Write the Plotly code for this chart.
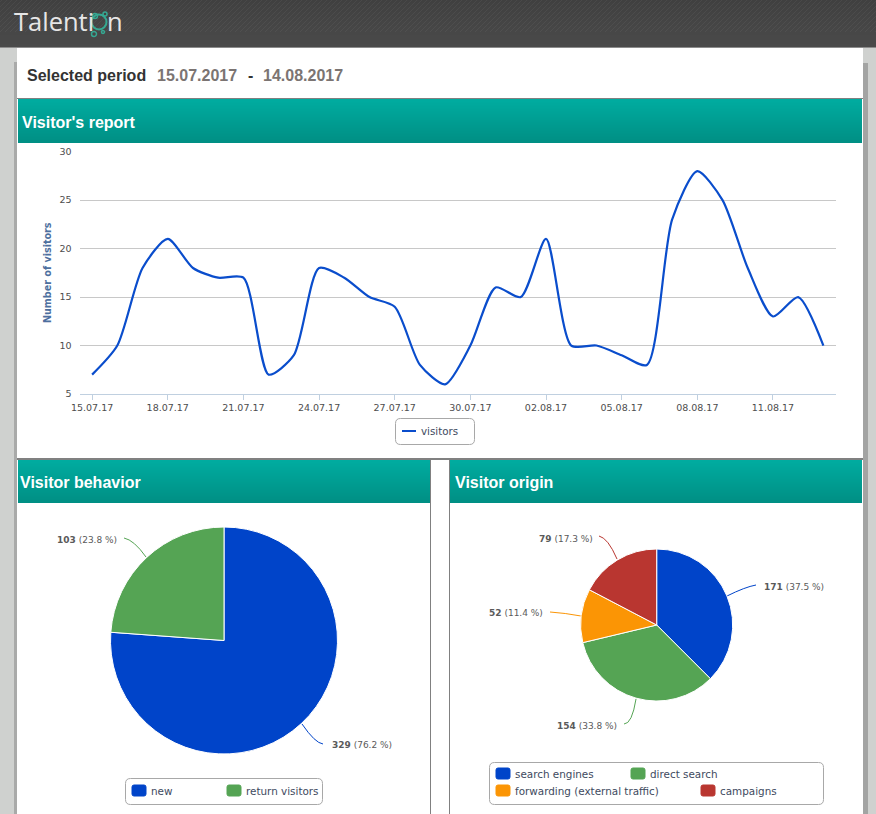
import plotly.graph_objects as go

W, H = 876, 814

# visitor's report
dates = ["15.07.17", "16.07.17", "17.07.17", "18.07.17", "19.07.17", "20.07.17", "21.07.17", "22.07.17",
         "23.07.17", "24.07.17", "25.07.17", "26.07.17", "27.07.17", "28.07.17", "29.07.17", "30.07.17",
         "31.07.17", "01.08.17", "02.08.17", "03.08.17", "04.08.17", "05.08.17", "06.08.17", "07.08.17",
         "08.08.17", "09.08.17", "10.08.17", "11.08.17", "12.08.17", "13.08.17"]
visitors = [7, 10, 18, 21, 18, 17, 17, 7, 9, 18, 17, 15, 14, 8, 6, 10, 16, 15, 21, 10, 10, 9, 8, 23, 28, 25, 18, 13, 15, 10]
tick_dates = dates[::3]

# pies
behavior_labels = ["new", "return visitors"]
behavior_values = [329, 103]
behavior_pct = ["76.2", "23.8"]
origin_labels = ["search engines", "direct search", "forwarding (external traffic)", "campaigns"]
origin_values = [171, 154, 52, 79]
origin_pct = ["37.5", "33.8", "11.4", "17.3"]

BLUE, GREEN, ORANGE, RED = "#0044c9", "#55a454", "#fb9505", "#b93630"
SANS = "Liberation Sans"
DEJAVU = "DejaVu Sans"


def fx(x):
    return x / W


def fy(y):
    return 1 - y / H


shapes = []
annotations = []


def rect(x0, y0, x1, y1, color):
    shapes.append(dict(type="rect", xref="paper", yref="paper", layer="below",
                       x0=fx(x0), x1=fx(x1), y0=fy(y0), y1=fy(y1),
                       fillcolor=color, line_width=0))


def gradient(x0, y0, x1, y1, top, bottom):
    n = y1 - y0
    for i in range(n):
        c = [round(top[k] + (bottom[k] - top[k]) * i / max(n - 1, 1)) for k in range(3)]
        rect(x0, y0 + i, x1, y0 + i + 1, f"rgb({c[0]},{c[1]},{c[2]})")


def text(x, y, s, size, color, family=DEJAVU, anchor="left", **kw):
    annotations.append(dict(xref="paper", yref="paper", x=fx(x - 1), y=fy(y), text=s, showarrow=False,
                            xanchor=anchor, yanchor="middle", borderpad=0,
                            font=dict(family=family, size=size, color=color), **kw))


def rounded_box(x0, y0, x1, y1, r, fill, line, lw=1):
    p = (f"M {fx(x0 + r)} {fy(y0)} L {fx(x1 - r)} {fy(y0)} Q {fx(x1)} {fy(y0)} {fx(x1)} {fy(y0 + r)} "
         f"L {fx(x1)} {fy(y1 - r)} Q {fx(x1)} {fy(y1)} {fx(x1 - r)} {fy(y1)} "
         f"L {fx(x0 + r)} {fy(y1)} Q {fx(x0)} {fy(y1)} {fx(x0)} {fy(y1 - r)} "
         f"L {fx(x0)} {fy(y0 + r)} Q {fx(x0)} {fy(y0)} {fx(x0 + r)} {fy(y0)} Z")
    shapes.append(dict(type="path", xref="paper", yref="paper", layer="below", path=p,
                       fillcolor=fill, line=dict(color=line, width=lw)))


def leader(x0, y0, cx, cy, x1, y1, color):
    p = f"M {fx(x0)} {fy(y0)} Q {fx(cx)} {fy(cy)} {fx(x1)} {fy(y1)}"
    shapes.append(dict(type="path", xref="paper", yref="paper", layer="below", path=p,
                       line=dict(color=color, width=1)))


# page background and shadows
rect(0, 0, W, H, "#cfd1cf")
rect(14, 62, 17, H, "#a9aaa9")
rect(863, 63, 868, H, "#a3a4a3")
rect(17, 48, 863, H, "#ffffff")

# top bar
gradient(0, 0, W, 47, (64, 64, 64), (74, 74, 74))
rect(0, 47, W, 48, "#8c8c8c")
stripes = " ".join(f"M {fx(x)} {fy(32)} L {fx(x + 32)} {fy(0)}" for x in range(-30, W, 5))
shapes.append(dict(type="path", xref="paper", yref="paper", layer="below", path=stripes,
                   line=dict(color="rgba(255,255,255,0.05)", width=1)))

# logo
text(14, 21, "Talenti", 25.5, "#e6e6e6", family="Open Sans")
text(107, 21, "n", 25.5, "#e6e6e6", family="Open Sans")
for cx, cy, r, w in [(99, 22, 7.5, 2), (94, 34, 2.5, 1.5), (103, 32, 1.5, 1.5), (105, 14, 2, 1.5), (95, 16, 2.5, 1.5)]:
    shapes.append(dict(type="circle", xref="paper", yref="paper", layer="below",
                       x0=fx(cx - r), x1=fx(cx + r), y0=fy(cy + r), y1=fy(cy - r),
                       line=dict(color="#35a892", width=w)))

# selected period
text(27, 75.4, "<b>Selected period</b>", 16, "#333333", family=SANS)
text(157, 75.4, "<b>15.07.2017</b>", 16, "#7b7472", family=SANS)
text(248, 75.4, "<b>-</b>", 16, "#333333", family=SANS)
text(263, 75.4, "<b>14.08.2017</b>", 16, "#7b7472", family=SANS)

# section bands
TEAL_TOP, TEAL_BOTTOM = (0, 172, 160), (0, 143, 132)
rect(17, 98, 863, 99, "#808080")
gradient(18, 99, 862, 143, TEAL_TOP, TEAL_BOTTOM)
text(22, 122.4, "<b>Visitor's report</b>", 16, "#ffffff", family=SANS)

rect(17, 458, 863, 460, "#808080")
gradient(18, 460, 430, 503, TEAL_TOP, TEAL_BOTTOM)
gradient(450, 460, 862, 503, TEAL_TOP, TEAL_BOTTOM)
rect(430, 460, 431, H, "#808080")
rect(449, 460, 450, H, "#808080")
text(20, 482.4, "<b>Visitor behavior</b>", 16, "#ffffff", family=SANS)
text(455, 482.4, "<b>Visitor origin</b>", 16, "#ffffff", family=SANS)

# line chart legend
rounded_box(395.5, 418.5, 474.5, 444.5, 5, "#ffffff", "#a8a8a8")
shapes.append(dict(type="line", xref="paper", yref="paper", layer="below",
                   x0=fx(402), x1=fx(416), y0=fy(431), y1=fy(431), line=dict(color="#0a4dcc", width=2)))
text(421, 431, "visitors", 10.3, "#3e4a5e")

# y axis title
text(48, 273, "<b>Number of visitors</b>", 9.6, "#4d6f9e", anchor="center", textangle=-90)

# pie labels and leader lines
leader(302, 724, 315, 743, 323, 744, BLUE)
text(332, 745, f"<b>{behavior_values[0]}</b> ({behavior_pct[0]} %)", 9, "#5a5a5a")
leader(146, 557, 134, 540, 124, 538, GREEN)
text(57, 540, f"<b>{behavior_values[1]}</b> ({behavior_pct[1]} %)", 9, "#5a5a5a")

leader(727, 596, 745, 587, 756, 585, BLUE)
text(764, 587, f"<b>{origin_values[0]}</b> ({origin_pct[0]} %)", 9, "#5a5a5a")
leader(636, 699, 632, 724, 624, 724, GREEN)
text(557, 726, f"<b>{origin_values[1]}</b> ({origin_pct[1]} %)", 9, "#5a5a5a")
leader(581, 616, 565, 613, 550, 612, ORANGE)
text(489, 613, f"<b>{origin_values[2]}</b> ({origin_pct[2]} %)", 9, "#5a5a5a")
leader(617, 559, 608, 538, 599, 536, RED)
text(539, 539, f"<b>{origin_values[3]}</b> ({origin_pct[3]} %)", 9, "#5a5a5a")

# pie legends
rounded_box(125.5, 778.5, 322.5, 804.5, 5, "#ffffff", "#a8a8a8")
rounded_box(489.5, 762.5, 823.5, 804.5, 5, "#ffffff", "#a8a8a8")
for sx, sy, color, tx, label in [
    (132, 785, BLUE, 151, behavior_labels[0]),
    (227, 785, GREEN, 246, behavior_labels[1]),
    (496, 768, BLUE, 515, origin_labels[0]),
    (631, 768, GREEN, 650, origin_labels[1]),
    (496, 785, ORANGE, 515, origin_labels[2]),
    (701, 785, RED, 720, origin_labels[3]),
]:
    rounded_box(sx, sy, sx + 14, sy + 11, 2, color, color)
    text(tx, sy + 6, label, 10.4, "#3e4a5e")

fig = go.Figure()

fig.add_trace(go.Scatter(
    x=dates, y=visitors, mode="lines", name="visitors",
    line=dict(color="#0a4dcc", width=2.2, shape="spline", smoothing=0.7), showlegend=False,
))

fig.add_trace(go.Pie(
    labels=behavior_labels, values=behavior_values, sort=False, direction="clockwise", rotation=0,
    marker=dict(colors=[BLUE, GREEN], line=dict(color="#ffffff", width=1)),
    textinfo="none", showlegend=False,
    domain=dict(x=[fx(224 - 113.5), fx(224 + 113.5)], y=[fy(640.5 + 113.5), fy(640.5 - 113.5)]),
))

fig.add_trace(go.Pie(
    labels=origin_labels, values=origin_values, sort=False, direction="clockwise", rotation=0,
    marker=dict(colors=[BLUE, GREEN, ORANGE, RED], line=dict(color="#ffffff", width=1)),
    textinfo="none", showlegend=False,
    domain=dict(x=[fx(656.7 - 76), fx(656.7 + 76)], y=[fy(625 + 76), fy(625 - 76)]),
))

fig.update_layout(
    width=W, height=H, margin=dict(l=0, r=0, t=0, b=0, autoexpand=False),
    paper_bgcolor="#cfd1cf", plot_bgcolor="rgba(0,0,0,0)",
    showlegend=False, shapes=shapes, annotations=annotations,
    xaxis=dict(
        domain=[fx(79.5), fx(836)], anchor="y", type="category", range=[-0.5, 29.5], automargin=False,
        categoryorder="array", categoryarray=dates,
        tickmode="array", tickvals=tick_dates, ticktext=tick_dates,
        ticks="outside", ticklen=5, tickcolor="#c0d0e0", showgrid=False,
        showline=True, linecolor="#c0d0e0", linewidth=1, zeroline=False,
        tickfont=dict(family=DEJAVU, size=9.5, color="#4d4d4d"),
    ),
    yaxis=dict(
        domain=[fy(394), fy(151.7)], anchor="x", range=[5, 30], tickvals=[5, 10, 15, 20, 25, 30], automargin=False,
        ticks="outside", ticklen=5, tickcolor="rgba(0,0,0,0)", showgrid=True, gridcolor="#c8c8c8",
        gridwidth=1, zeroline=False, showline=False,
        tickfont=dict(family=DEJAVU, size=9.5, color="#4d4d4d"),
    ),
)

fig.write_html("out.html", config={"displayModeBar": False},
               post_script="document.body.style.margin='0';document.body.style.overflow='hidden';")
